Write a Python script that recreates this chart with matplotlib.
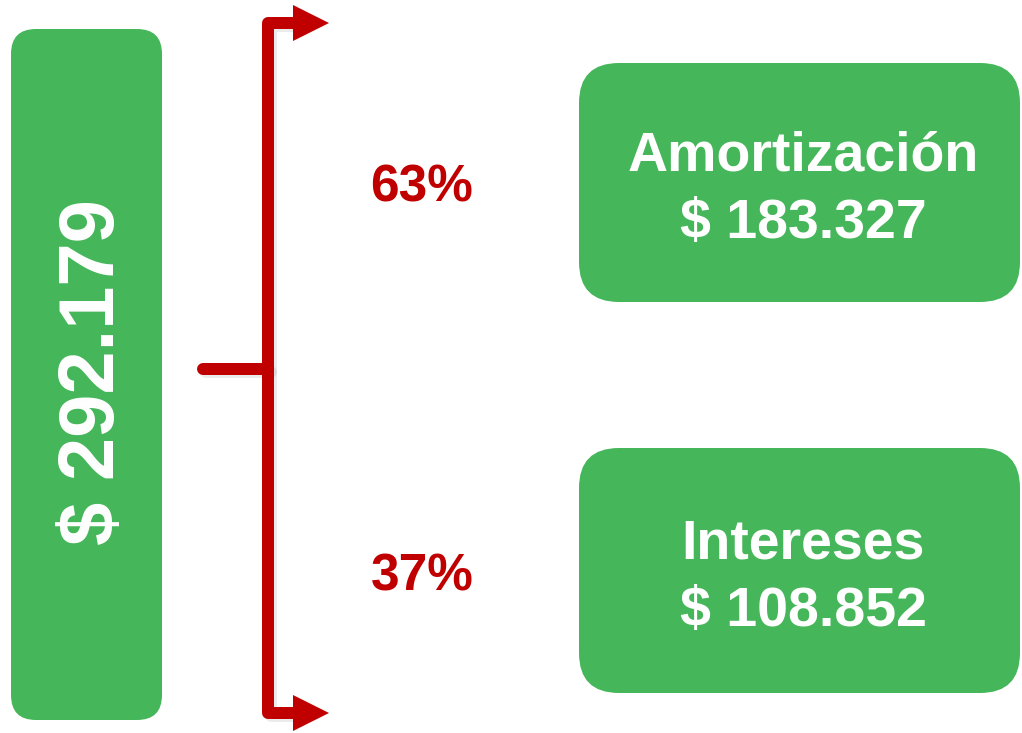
import matplotlib.pyplot as plt
from matplotlib.patches import FancyBboxPatch, Polygon

# data
total_label = "$ 292.179"
part_names = ["Amortización", "Intereses"]
part_values = ["$ 183.327", "$ 108.852"]
part_shares = ["63%", "37%"]

green = '#46B65A'
red = '#C00000'
font = 'Liberation Sans'

fig = plt.figure(figsize=[10.22, 7.33], dpi=100)
ax = fig.add_axes([0, 0, 1, 1])
ax.set_xlim(0, 1022)
ax.set_ylim(733, 0)
ax.axis('off')

# left total box
ax.add_patch(FancyBboxPatch((11 + 25, 29 + 25), 151 - 50, 691 - 50,
                            boxstyle='round,pad=25', fc=green, ec='none'))
ax.text(93, 372, total_label, rotation=90, color='white', fontsize=56,
        fontweight='bold', family=font, ha='center', va='center')

# bracket with arrows
lw = 12 * 72 / 100
bx, top, bot, mid = 268, 23, 713, 369
for dx, col, a in [(3, 'black', 0.08), (0, red, 1)]:
    ax.plot([295 + dx, bx + dx, bx + dx, 295 + dx],
            [top + dx, top + dx, bot + dx, bot + dx],
            color=col, alpha=a, lw=lw, solid_joinstyle='round',
            solid_capstyle='butt', zorder=2 if dx == 0 else 1)
    ax.plot([203 + dx, bx + dx], [mid + dx, mid + dx], color=col, alpha=a,
            lw=lw, solid_capstyle='round', zorder=2 if dx == 0 else 1)
for y in [top, bot]:
    ax.add_patch(Polygon([(293, y - 18), (329, y), (293, y + 18)],
                         closed=True, fc=red, ec='none', zorder=3))

# right boxes
box_tops = [63, 448]
box_heights = [239, 245]
share_y = [188, 577]
for name, val, share, t, h, sy in zip(part_names, part_values, part_shares,
                                      box_tops, box_heights, share_y):
    r = 40
    ax.add_patch(FancyBboxPatch((579 + r, t + r), 441 - 2 * r, h - 2 * r,
                                boxstyle='round,pad=%d' % r, fc=green,
                                ec='none'))
    cy = t + h / 2
    ax.text(803, cy - 12, name, color='white', fontsize=40,
            fontweight='bold', family=font, ha='center', va='baseline')
    ax.text(803, cy + 55, val, color='white', fontsize=40,
            fontweight='bold', family=font, ha='center', va='baseline')
    ax.text(422, sy, share, color=red, fontsize=37, fontweight='bold',
            family=font, ha='center', va='center')

fig.savefig('out.png', dpi=100)
